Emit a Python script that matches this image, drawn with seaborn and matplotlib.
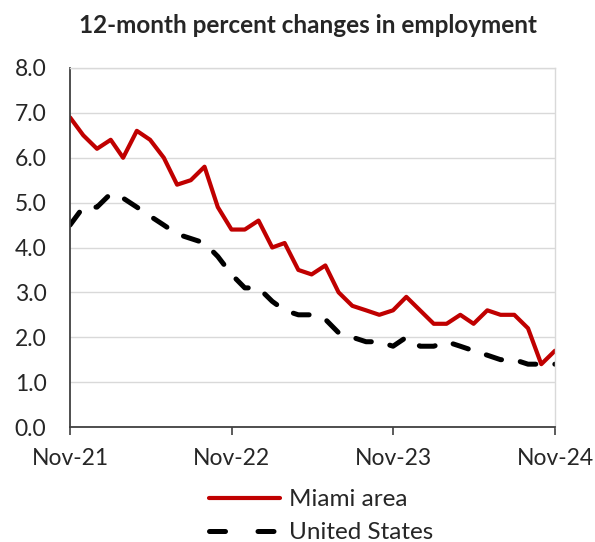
import numpy as np
import pandas as pd
import matplotlib
matplotlib.use("Agg")
import matplotlib.pyplot as plt
import matplotlib.dates as mdates
from matplotlib.lines import Line2D
import seaborn as sns

months = pd.date_range("2021-11-01", periods=37, freq="MS")

miami = [6.9, 6.5, 6.2, 6.4, 6.0, 6.6, 6.4, 6.0, 5.4, 5.5, 5.8, 4.9,
         4.4, 4.4, 4.6, 4.0, 4.1, 3.5, 3.4, 3.6, 3.0, 2.7, 2.6, 2.5,
         2.6, 2.9, 2.6, 2.3, 2.3, 2.5, 2.3, 2.6, 2.5, 2.5, 2.2, 1.4, 1.7]

us = [4.5, 4.9, 4.9, 5.2, 5.1, 4.9, 4.7, 4.5, 4.3, 4.2, 4.1, 3.8,
      3.4, 3.1, 3.1, 2.8, 2.6, 2.5, 2.5, 2.4, 2.1, 2.0, 1.9, 1.9,
      1.8, 2.0, 1.8, 1.8, 1.9, 1.8, 1.7, 1.6, 1.5, 1.5, 1.4, 1.4, 1.4]

series_labels = ["Miami area", "United States"]
tick_dates = pd.to_datetime(["2021-11-01", "2022-11-01", "2023-11-01", "2024-11-01"])
y_ticks = np.arange(0, 8.1, 1.0)

sns.set_style("white")
plt.rcParams["font.family"] = ["Lato", "DejaVu Sans"]

fig = plt.figure(figsize=(5.95, 5.42), dpi=100)
ax = fig.add_axes([70 / 595, 1 - 427 / 542, 485 / 595, 359 / 542])

sns.lineplot(x=months, y=miami, ax=ax, color="#C00000", linewidth=3.0, legend=False)
sns.lineplot(x=months, y=us, ax=ax, color="black", linewidth=3.6, legend=False)
ax.lines[1].set_dashes([3.2, 3.8])
ax.lines[1].set_dash_capstyle("round")

ax.set_xlim(months[0], months[-1])
ax.set_ylim(0, 8)
ax.set_yticks(y_ticks)
ax.set_yticklabels([f"{v:.1f}" for v in y_ticks])
ax.set_xticks(tick_dates)
ax.xaxis.set_major_formatter(mdates.DateFormatter("%b-%y"))
ax.set_xlabel("")
ax.set_ylabel("")
ax.grid(axis="y", color="#D9D9D9", linewidth=1.0)
ax.set_axisbelow(True)

for side in ["left", "bottom"]:
    ax.spines[side].set_color("#404040")
    ax.spines[side].set_linewidth(1.3)
ax.spines["top"].set_color("#D9D9D9")
ax.spines["right"].set_color("#D9D9D9")
ax.spines["top"].set_linewidth(1.0)
ax.spines["right"].set_linewidth(1.0)

ax.tick_params(axis="y", length=0, pad=17, labelsize=16.5)
ax.tick_params(axis="x", length=6, width=1.2, color="#404040",
               direction="out", pad=9, labelsize=16.5, bottom=True)

# legend proxies so the legend dash pattern can differ from the plotted line
handles = [
    Line2D([], [], color="#C00000", linewidth=3.0),
    Line2D([], [], color="black", linewidth=3.6, dashes=[3.2, 6.5],
           dash_capstyle="round"),
]
fig.legend(handles, series_labels, loc="upper center", bbox_to_anchor=(0.54, 1 - 477 / 542),
           frameon=False, fontsize=17.5, handlelength=2.9, handletextpad=0.4,
           labelspacing=0.5, borderpad=0)

fig.suptitle("12-month percent changes in employment", x=0.517, y=1 - 14 / 542,
             fontsize=17.5, fontweight="bold", va="top")

fig.savefig("out.png", dpi=100)
